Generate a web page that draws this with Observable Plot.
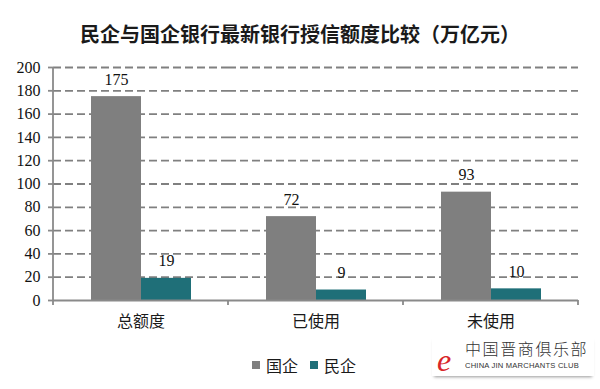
<!DOCTYPE html>
<html>
<head>
<meta charset="utf-8">
<script src="https://cdn.jsdelivr.net/npm/d3@7"></script>
<script src="https://cdn.jsdelivr.net/npm/@observablehq/plot@0.6"></script>
<style>
  html, body { margin: 0; padding: 0; background: #fff; }
  body { width: 600px; height: 389px; position: relative; overflow: hidden; font-family: "Noto Sans CJK SC", sans-serif; }
  #title { position: absolute; left: 0; top: 20px; width: 600px; line-height: 28px; text-align: center; font-size: 20px; font-weight: bold; color: #1a1a1a; }
  #chart { position: absolute; left: 0; top: 50px; }
  #legend { position: absolute; left: 252px; top: 353px; height: 24px; line-height: 24px; font-size: 16px; color: #1a1a1a; display: flex; align-items: center; }
  #legend .sw { display: inline-block; width: 8px; height: 8px; margin-right: 6px; }
  #legend .item { display: flex; align-items: center; margin-right: 12px; }
  #logo { position: absolute; left: 432px; top: 336px; width: 162px; height: 40px; box-shadow: 0 3px 3px -2px #999; }
  #logo .e { position: absolute; left: 5px; top: 8px; font-family: "Liberation Serif", serif; font-style: italic; font-size: 32px; color: #d9262a; line-height: 32px; }
  #logo .cn { position: absolute; left: 33px; top: 2px; font-size: 16px; letter-spacing: 1.6px; color: #333; line-height: 20px; font-weight: 300; }
  #logo .en { position: absolute; left: 33px; top: 25px; font-size: 8px; color: #333; line-height: 10px; font-family: "Liberation Sans", sans-serif; letter-spacing: 0.2px; transform: scaleX(0.95); transform-origin: left; white-space: nowrap; }
</style>
</head>
<body>
<div id="title">民企与国企银行最新银行授信额度比较（万亿元）</div>
<div id="chart"></div>
<div id="legend"></div>
<div id="logo"><span class="e">e</span><div class="cn">中国晋商俱乐部</div><div class="en">CHINA JIN MARCHANTS CLUB</div></div>
<script>
const categories = ["总额度", "已使用", "未使用"];
const seriesNames = ["国企", "民企"];
const soeValues = [175, 72, 93];
const privateValues = [19, 9, 10];
const yTicks = [0, 20, 40, 60, 80, 100, 120, 140, 160, 180, 200];
const seriesColors = ["#7f7f7f", "#1f6f78"];

const rows = categories.flatMap((c, i) => [
  {cat: c, series: seriesNames[0], value: soeValues[i]},
  {cat: c, series: seriesNames[1], value: privateValues[i]}
]);

const axisColor = "#8a8a8a";

const chart = Plot.plot({
  width: 600,
  height: 290,
  marginLeft: 53,
  marginRight: 22,
  marginTop: 17,
  marginBottom: 40,
  style: {background: "transparent", overflow: "visible"},
  fx: {domain: categories, padding: 0, label: null},
  x: {domain: seriesNames, paddingInner: 0, paddingOuter: 0.75, axis: null},
  y: {domain: [0, 200], axis: null},
  color: {domain: seriesNames, range: seriesColors},
  marks: [
    Plot.gridY(yTicks.filter(d => d > 0), {stroke: "#808080", strokeOpacity: 1, strokeWidth: 1.8, strokeDasharray: "8,4"}),
    Plot.barY(rows, {fx: "cat", x: "series", y: "value", fill: "series"}),
    Plot.text(rows, {fx: "cat", x: "series", y: "value", text: "value", dy: -17, fontSize: 16, fontFamily: "Liberation Serif", fill: "#111"}),
    Plot.ruleY([0], {stroke: axisColor, strokeWidth: 2}),
    Plot.axisY(yTicks, {tickSize: 5, tickPadding: 8, fontSize: 16, fontFamily: "Liberation Serif", stroke: axisColor, strokeWidth: 1.8, fill: "#111", label: null}),
    Plot.axisFx({anchor: "bottom", tickSize: 0, tickPadding: 15, fontSize: 16, fontFamily: "Noto Sans CJK SC", fill: "#1a1a1a", label: null})
  ]
});

document.getElementById("chart").appendChild(chart);

// Axis line and category separator ticks, placed with the plot's own scales
const svgEl = chart.tagName.toLowerCase() === "svg" ? chart : chart.querySelector("svg");
const svg = d3.select(svgEl);
const fx = chart.scale("fx");
const y = chart.scale("y");
const bounds = categories.map(c => fx.apply(c));
bounds.push(fx.apply(categories[categories.length - 1]) + fx.bandwidth);
const y0 = y.apply(0), yTop = y.apply(200);
const g = svg.append("g").attr("stroke", axisColor).attr("stroke-width", 1.8);
g.append("line").attr("x1", bounds[0]).attr("x2", bounds[0]).attr("y1", yTop).attr("y2", y0);
bounds.forEach(b => g.append("line").attr("x1", b).attr("x2", b).attr("y1", y0).attr("y2", y0 + 5));

// Legend
const legend = document.getElementById("legend");
seriesNames.forEach((s, i) => {
  const item = document.createElement("span");
  item.className = "item";
  const sw = document.createElement("span");
  sw.className = "sw";
  sw.style.background = seriesColors[i];
  item.appendChild(sw);
  item.appendChild(document.createTextNode(s));
  legend.appendChild(item);
});
</script>
</body>
</html>
